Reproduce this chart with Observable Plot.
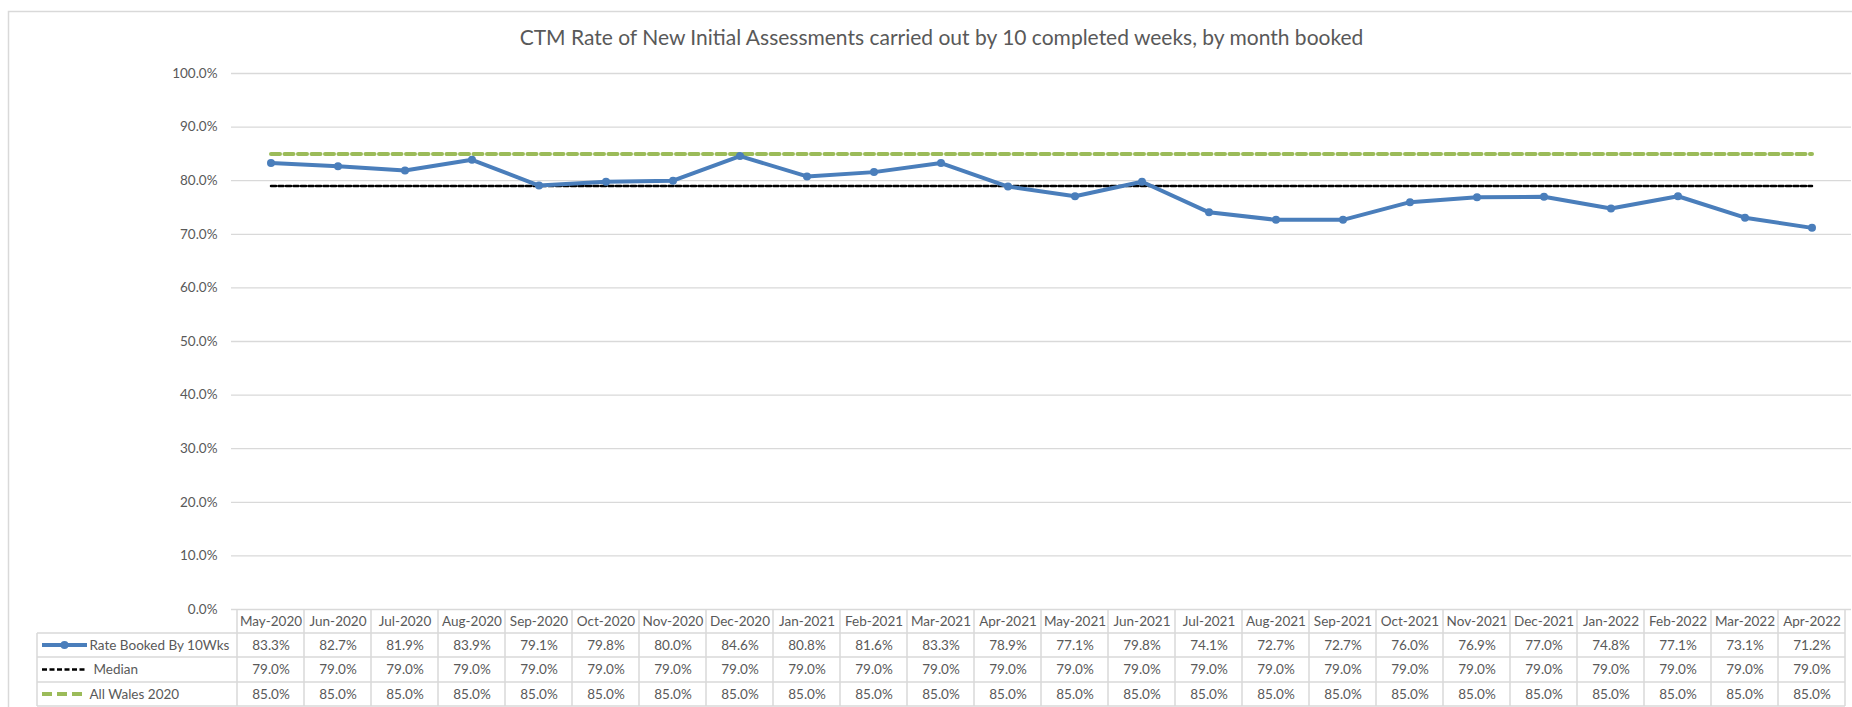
<!DOCTYPE html>
<html><head><meta charset="utf-8">
<script src="https://cdn.jsdelivr.net/npm/d3@7"></script>
<script src="https://cdn.jsdelivr.net/npm/@observablehq/plot@0.6"></script>
<style>
html,body{margin:0;padding:0;background:#fff;overflow:hidden;}
#chart svg{display:block;}
</style></head><body><div id="chart"></div>
<script>
const title = "CTM Rate of New Initial Assessments carried out by 10 completed weeks, by month booked";
const months = ["May-2020","Jun-2020","Jul-2020","Aug-2020","Sep-2020","Oct-2020","Nov-2020","Dec-2020",
  "Jan-2021","Feb-2021","Mar-2021","Apr-2021","May-2021","Jun-2021","Jul-2021","Aug-2021","Sep-2021",
  "Oct-2021","Nov-2021","Dec-2021","Jan-2022","Feb-2022","Mar-2022","Apr-2022"];
const rate = [83.3,82.7,81.9,83.9,79.1,79.8,80.0,84.6,80.8,81.6,83.3,78.9,77.1,79.8,74.1,72.7,72.7,76.0,76.9,77.0,74.8,77.1,73.1,71.2];
const median = [79.0,79.0,79.0,79.0,79.0,79.0,79.0,79.0,79.0,79.0,79.0,79.0,79.0,79.0,79.0,79.0,79.0,79.0,79.0,79.0,79.0,79.0,79.0,79.0];
const allWales = [85.0,85.0,85.0,85.0,85.0,85.0,85.0,85.0,85.0,85.0,85.0,85.0,85.0,85.0,85.0,85.0,85.0,85.0,85.0,85.0,85.0,85.0,85.0,85.0];
const yTicks = [0,0.1,0.2,0.3,0.4,0.5,0.6,0.7,0.8,0.9,1.0];
const seriesNames = ["Rate Booked By 10Wks","Median","All Wales 2020"];

const rows = months.map((m,i)=>({month:m, rate:rate[i]/100, median:median[i]/100, wales:allWales[i]/100}));

const FONT = "Lato, 'Open Sans', sans-serif";
const GREY = "#595959";
const GRID = "#d9d9d9";
const BLUE = "#4a7ebb";
const GREEN = "#9bbb59";
const pct = v => (v*100).toFixed(1) + "%";
const T = {fill: GREY, lineAnchor: "middle"};

const plot = Plot.plot({
  width: 1852, height: 707,
  marginLeft: 231, marginRight: 1, marginTop: 73, marginBottom: 98,
  style: {fontFamily: FONT, fontSize: "13.5px", color: GREY, background: "#fff"},
  x: {type: "band", domain: months, padding: 0, axis: null},
  y: {domain: [0, 1], axis: null},
  marks: [
    Plot.gridY(yTicks, {stroke: GRID, strokeOpacity: 1, strokeWidth: 1.3}),
    Plot.axisY(yTicks, {tickSize: 0, tickPadding: 14, tickFormat: pct, fill: GREY, fontSize: 13.5}),
    Plot.lineY(rows, {x: "month", y: "wales", stroke: GREEN, strokeWidth: 4, strokeDasharray: "9,4.5"}),
    Plot.lineY(rows, {x: "month", y: "median", stroke: "#000", strokeWidth: 2.5, strokeDasharray: "5,2.5"}),
    Plot.lineY(rows, {x: "month", y: "rate", stroke: BLUE, strokeWidth: 4}),
    Plot.dot(rows, {x: "month", y: "rate", fill: BLUE, r: 4}),
    Plot.text([title], {...T, frameAnchor: "top", dx: -100, dy: -35, fontSize: 21}),
    Plot.text(rows, {...T, x: "month", text: "month", frameAnchor: "bottom", dy: 12}),
    Plot.text(rows, {...T, x: "month", text: d => pct(d.rate), frameAnchor: "bottom", dy: 36}),
    Plot.text(rows, {...T, x: "month", text: d => pct(d.median), frameAnchor: "bottom", dy: 60.5}),
    Plot.text(rows, {...T, x: "month", text: d => pct(d.wales), frameAnchor: "bottom", dy: 85}),
    Plot.text([seriesNames[0]], {...T, frameAnchor: "bottom-left", dx: -142, dy: 36, textAnchor: "start"}),
    Plot.text([seriesNames[1]], {...T, frameAnchor: "bottom-left", dx: -138, dy: 60.5, textAnchor: "start"}),
    Plot.text([seriesNames[2]], {...T, frameAnchor: "bottom-left", dx: -142, dy: 85, textAnchor: "start"})
  ]
});
document.getElementById("chart").appendChild(plot);

// table grid & legend keys, positioned with the plot's own scales
const xs = plot.scale("x"), ys = plot.scale("y");
const bw = xs.bandwidth;
const edges = months.map(m => xs.apply(m));
edges.push(edges[edges.length - 1] + bw);
const y0 = ys.apply(0);
const rowLines = [y0 + 24, y0 + 48, y0 + 73, y0 + 97];
const legLeft = 37, right = edges[edges.length - 1];
const svg = d3.select(plot);
const g = svg.insert("g", ":first-child");
g.append("rect").attr("x", 8.5).attr("y", 11.5).attr("width", 1860).attr("height", 720)
  .attr("fill", "none").attr("stroke", GRID).attr("stroke-width", 1.5);
edges.forEach(e => g.append("line").attr("x1", e).attr("x2", e).attr("y1", y0).attr("y2", rowLines[3])
  .attr("stroke", GRID).attr("stroke-width", 1.5));
g.append("line").attr("x1", legLeft).attr("x2", legLeft).attr("y1", rowLines[0]).attr("y2", rowLines[3])
  .attr("stroke", GRID).attr("stroke-width", 1.5);
rowLines.forEach(y => g.append("line").attr("x1", legLeft).attr("x2", right).attr("y1", y).attr("y2", y)
  .attr("stroke", GRID).attr("stroke-width", 1.5));
const keys = svg.append("g");
const cy = [y0 + 36, y0 + 60.5, y0 + 85];
keys.append("line").attr("x1", 42).attr("x2", 87).attr("y1", cy[0]).attr("y2", cy[0]).attr("stroke", BLUE).attr("stroke-width", 4);
keys.append("circle").attr("cx", 64.5).attr("cy", cy[0]).attr("r", 4).attr("fill", BLUE);
keys.append("line").attr("x1", 42).attr("x2", 87).attr("y1", cy[1]).attr("y2", cy[1]).attr("stroke", "#000").attr("stroke-width", 2.5).attr("stroke-dasharray", "5,2.5");
keys.append("line").attr("x1", 42).attr("x2", 85).attr("y1", cy[2]).attr("y2", cy[2]).attr("stroke", GREEN).attr("stroke-width", 4).attr("stroke-dasharray", "10,5");
</script></body></html>
